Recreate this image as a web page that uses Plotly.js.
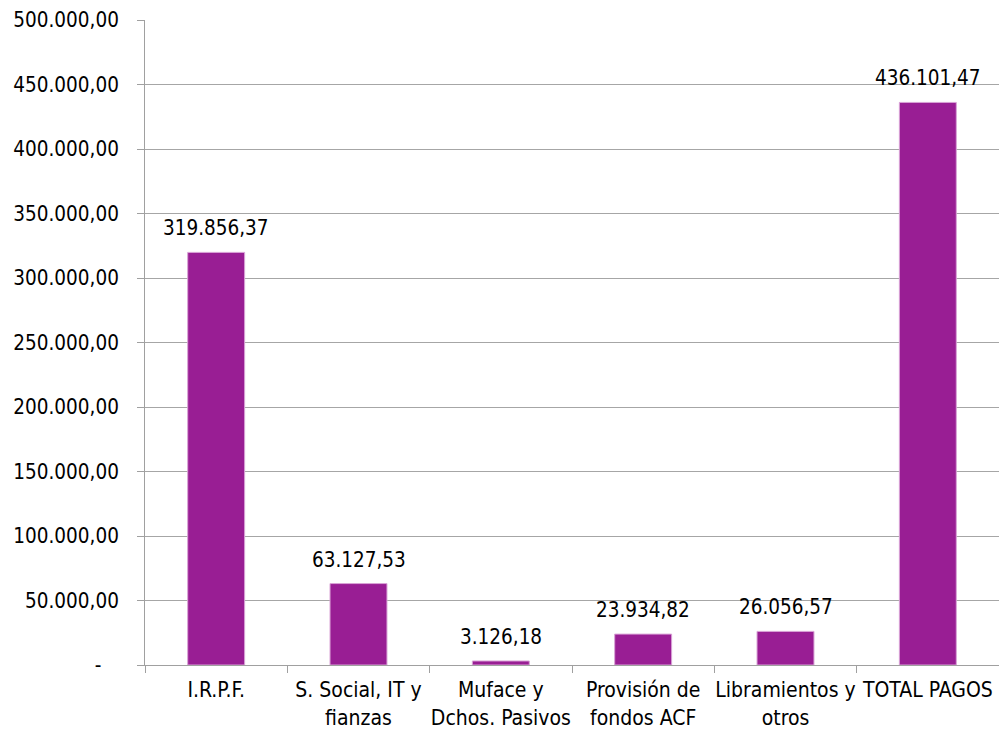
<!DOCTYPE html>
<html>
<head>
<meta charset="utf-8">
<script src="https://cdn.plot.ly/plotly-3.0.1.min.js"></script>
<style>html,body{margin:0;padding:0;background:#fff;}#chart{width:999px;height:731px;}</style>
</head>
<body>
<div id="chart"></div>
<script>
const categories = ["I.R.P.F.", "S. Social, IT y<br>fianzas", "Muface y<br>Dchos. Pasivos", "Provisión de<br>fondos ACF", "Libramientos y<br>otros", "TOTAL PAGOS"];
const values = [319856.37, 63127.53, 3126.18, 23934.82, 26056.57, 436101.47];
const yTickVals = [0, 50000, 100000, 150000, 200000, 250000, 300000, 350000, 400000, 450000, 500000];
const yTickText = ["-\u00a0\u00a0\u00a0", "50.000,00", "100.000,00", "150.000,00", "200.000,00", "250.000,00", "300.000,00", "350.000,00", "400.000,00", "450.000,00", "500.000,00"];

function fmtES(v) {
  const parts = v.toFixed(2).split(".");
  const intPart = parts[0].replace(/\B(?=(\d{3})+(?!\d))/g, ".");
  return intPart + "," + parts[1];
}

const FONT = "'DejaVu Sans Condensed', 'DejaVu Sans', sans-serif";

const trace = {
  type: "bar",
  x: categories,
  y: values,
  marker: {color: "#991e94", line: {color: "#d9a3d6", width: 1}},
  hoverinfo: "none"
};

const annotations = categories.map((c, i) => ({
  x: c, y: values[i], xref: "x", yref: "y",
  text: fmtES(values[i]),
  showarrow: false, yanchor: "bottom", yshift: 10,
  font: {family: FONT, size: 20.5, color: "#000"}
}));

const layout = {
  width: 999, height: 731,
  margin: {l: 145, r: 0, t: 20, b: 66},
  paper_bgcolor: "#fff", plot_bgcolor: "#fff",
  showlegend: false,
  bargap: 0.6,
  font: {family: FONT, size: 20, color: "#000"},
  xaxis: {
    type: "category",
    showline: true, linecolor: "#a0a0a0", linewidth: 1,
    ticks: "outside", tickson: "boundaries", ticklen: 7, tickcolor: "#a0a0a0",
    showgrid: false, zeroline: false,
    tickangle: 0, automargin: false,
    ticklabelstandoff: 6,
    tickfont: {family: FONT, size: 21, color: "#000"}
  },
  yaxis: {
    range: [0, 500000],
    tickvals: yTickVals, ticktext: yTickText,
    showline: true, linecolor: "#a0a0a0", linewidth: 1,
    ticks: "outside", ticklen: 7, tickcolor: "#a0a0a0",
    showgrid: true, gridcolor: "#a6a6a6", gridwidth: 1,
    zeroline: false, automargin: false,
    ticklabelstandoff: 14,
    tickfont: {family: FONT, size: 20.5, color: "#000"}
  },
  annotations: annotations
};

Plotly.newPlot("chart", [trace], layout, {displayModeBar: false, staticPlot: true});
</script>
</body>
</html>
